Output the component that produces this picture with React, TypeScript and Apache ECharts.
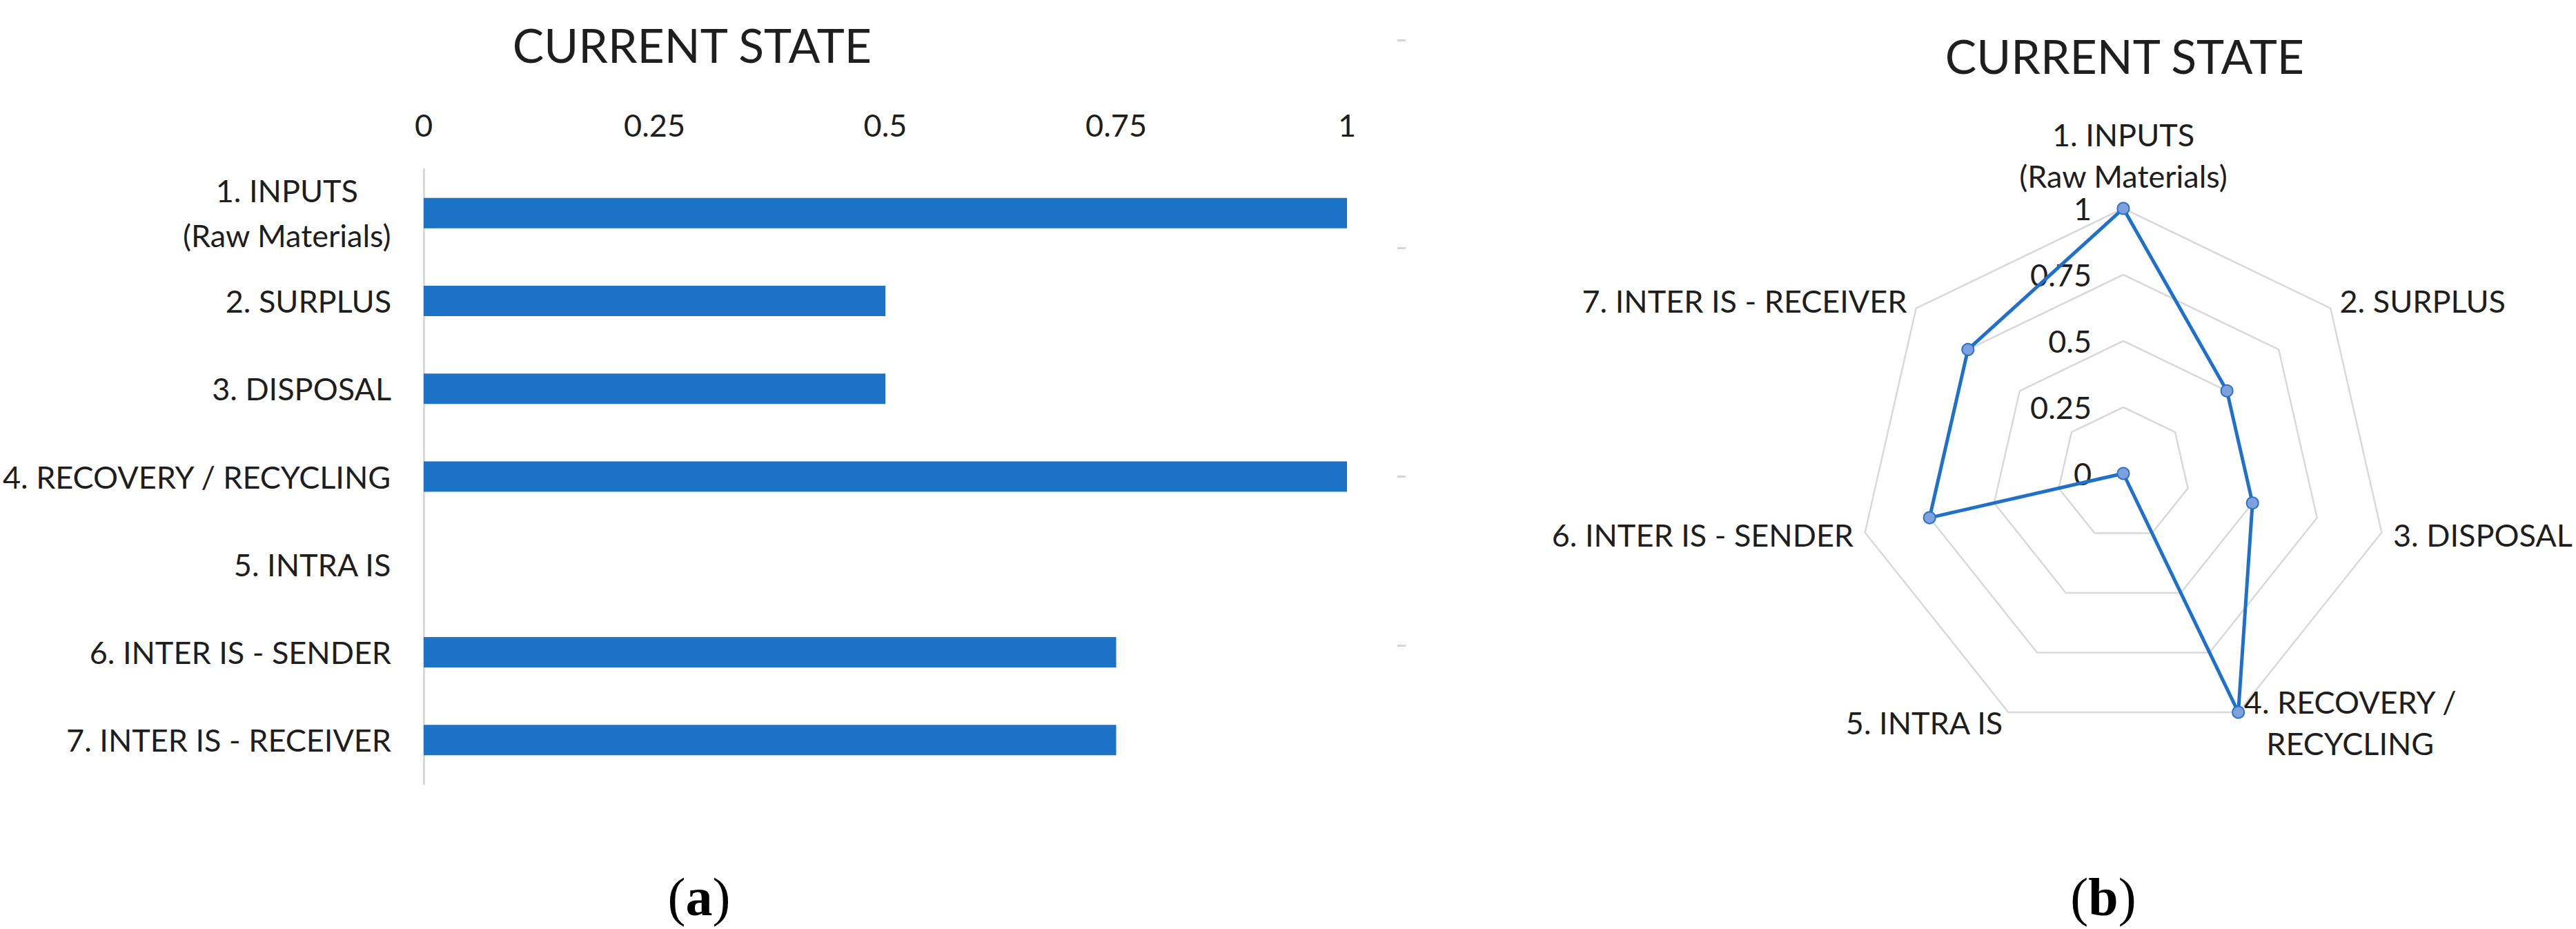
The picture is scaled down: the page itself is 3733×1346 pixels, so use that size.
import React, { useEffect, useRef } from "react";
import * as echarts from "echarts";

// ---------- data ----------
const chartTitle = "CURRENT STATE";
const barCategories = [
  "1. INPUTS\n(Raw Materials)",
  "2. SURPLUS",
  "3. DISPOSAL",
  "4. RECOVERY / RECYCLING",
  "5. INTRA IS",
  "6. INTER IS - SENDER",
  "7. INTER IS - RECEIVER",
];
const radarNames = [
  "1. INPUTS\n(Raw Materials)",
  "2. SURPLUS",
  "3. DISPOSAL",
  "4. RECOVERY /\nRECYCLING",
  "5. INTRA IS",
  "6. INTER IS - SENDER",
  "7. INTER IS - RECEIVER",
];
const stateValues = [1, 0.5, 0.5, 1, 0, 0.75, 0.75];
const axisMin = 0;
const axisMax = 1;
const axisStep = 0.25;
const captionLetters = ["a", "b"];

// ECharts lays radar indicators out counter-clockwise; list them so they read clockwise.
const radarOrder = [0, 6, 5, 4, 3, 2, 1];

// ---------- style ----------
const FONT = "Lato, 'Noto Sans', sans-serif";
const TEXT = "#1e1e1e";
const LABEL_SIZE = 45;
const BAR_COLOR = "#1b72c7";
const LINE_COLOR = "#1f70ca";
const GRID_GRAY = "#d9d9d9";

const toRich = (s: string) =>
  s
    .split("\n")
    .map((l) => `{c|${l}}`)
    .join("\n");

const richCenter = (lineHeight: number) => ({
  c: {
    align: "center",
    fontFamily: FONT,
    fontSize: LABEL_SIZE,
    color: TEXT,
    lineHeight,
  },
});

export default function App() {
  const ref = useRef<HTMLDivElement>(null);

  useEffect(() => {
    if (!ref.current) return;
    const chart = echarts.init(ref.current, undefined, { renderer: "svg" });

    const captionText = (letter: string, x: number) => ({
      type: "text",
      x,
      y: 1299,
      style: {
        text: `({b|${letter}})`,
        fontFamily: "'Liberation Serif', 'DejaVu Serif', serif",
        fontSize: 78,
        fill: "#000",
        align: "center",
        verticalAlign: "middle",
        rich: {
          b: {
            fontFamily: "'Liberation Serif', 'DejaVu Serif', serif",
            fontSize: 78,
            fontWeight: "bold",
            fill: "#000",
            color: "#000",
          },
        },
      },
    });

    const dash = (y: number) => ({
      type: "rect",
      shape: { x: 2025, y, width: 12, height: 3 },
      style: { fill: "#d6d6d6" },
    });

    const option: any = {
      animation: false,
      backgroundColor: "#ffffff",
      title: [
        {
          text: chartTitle,
          left: 1003,
          top: 64,
          padding: 0,
          textAlign: "center",
          textVerticalAlign: "middle",
          textStyle: { fontFamily: FONT, fontSize: 68, fontWeight: "normal", color: TEXT },
        },
        {
          text: chartTitle,
          left: 3079,
          top: 80,
          padding: 0,
          textAlign: "center",
          textVerticalAlign: "middle",
          textStyle: { fontFamily: FONT, fontSize: 68, fontWeight: "normal", color: TEXT },
        },
      ],
      grid: [
        { left: 610, top: 245, width: 1342, height: 891, containLabel: false },
        { left: 3077, top: 302, width: 10, height: 384, containLabel: false },
      ],
      xAxis: [
        {
          type: "value",
          gridIndex: 0,
          position: "top",
          min: axisMin,
          max: axisMax,
          interval: axisStep,
          axisLine: { show: false },
          axisTick: { show: false },
          splitLine: { show: false },
          axisLabel: { fontFamily: FONT, fontSize: LABEL_SIZE, color: TEXT, margin: 42 },
        },
        { type: "value", gridIndex: 1, show: false, min: 0, max: 1 },
      ],
      yAxis: [
        {
          type: "category",
          gridIndex: 0,
          data: barCategories,
          inverse: true,
          axisLine: { show: true, lineStyle: { color: GRID_GRAY, width: 3 } },
          axisTick: { show: false },
          splitLine: { show: false },
          axisLabel: {
            margin: 47,
            fontFamily: FONT,
            fontSize: LABEL_SIZE,
            color: TEXT,
            formatter: (v: string) => toRich(v),
            rich: richCenter(65),
          },
        },
        {
          type: "value",
          gridIndex: 1,
          min: axisMin,
          max: axisMax,
          interval: axisStep,
          axisLine: { show: false },
          axisTick: { show: false },
          splitLine: { show: false },
          axisLabel: { fontFamily: FONT, fontSize: LABEL_SIZE, color: TEXT, margin: 46 },
        },
      ],
      radar: {
        center: [3077, 686],
        radius: 384,
        startAngle: 90,
        shape: "polygon",
        splitNumber: 4,
        nameGap: 17,
        indicator: radarOrder.map((i) => ({ name: radarNames[i], min: axisMin, max: axisMax })),
        axisName: {
          fontFamily: FONT,
          fontSize: LABEL_SIZE,
          color: TEXT,
          formatter: (v: string) => toRich(v),
          rich: richCenter(60),
        },
        splitLine: { lineStyle: { color: GRID_GRAY, width: 2.5 } },
        splitArea: { show: false },
        axisLine: { show: false },
        axisTick: { show: false },
        axisLabel: { show: false },
      },
      series: [
        {
          type: "bar",
          xAxisIndex: 0,
          yAxisIndex: 0,
          data: stateValues,
          barWidth: 44,
          itemStyle: { color: BAR_COLOR },
        },
        {
          type: "radar",
          data: [{ value: radarOrder.map((i) => stateValues[i]), name: chartTitle }],
          symbol: "circle",
          symbolSize: 17,
          lineStyle: { color: LINE_COLOR, width: 5 },
          itemStyle: { color: "#7da1dd", borderColor: "#2a72cc", borderWidth: 2 },
        },
      ],
      graphic: [
        captionText(captionLetters[0], 1013),
        captionText(captionLetters[1], 3048),
        dash(57),
        dash(358),
        dash(689),
        dash(934),
      ],
    };

    chart.setOption(option);
    return () => chart.dispose();
  }, []);

  return (
    <div
      ref={ref}
      style={{ position: "fixed", left: 0, top: 0, width: 3733, height: 1346, background: "#fff" }}
    />
  );
}
